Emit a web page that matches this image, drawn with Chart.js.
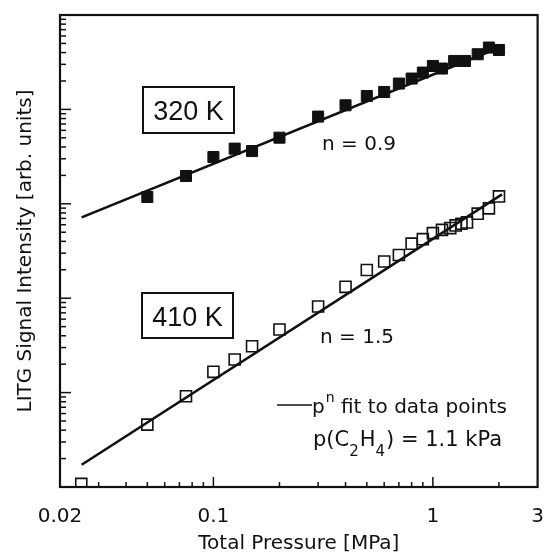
<!DOCTYPE html>
<html><head><meta charset="utf-8">
<script src="https://cdn.jsdelivr.net/npm/chart.js@4.4.0/dist/chart.umd.min.js"></script>
<style>html,body{margin:0;padding:0;background:#fff}#wrap{width:547px;height:557px}</style>
</head><body><div id="wrap"><canvas id="c" width="547" height="557"></canvas></div>
<script>
// ---- data ----
const pressure320 = [0.05,0.075,0.1,0.125,0.15,0.2,0.3,0.4,0.5,0.6,0.7,0.8,0.9,1.0,1.1,1.25,1.4,1.6,1.8,2.0];
const signal320   = [1180,1970,3130,3840,3620,5020,8390,11050,13870,15290,18780,21210,24550,28850,27080,32600,32600,38400,45200,42600];
const pressure410 = [0.025,0.05,0.075,0.1,0.125,0.15,0.2,0.3,0.4,0.5,0.6,0.7,0.8,0.9,1.0,1.1,1.2,1.27,1.35,1.43,1.6,1.8,2.0];
const signal410   = [1.08,4.58,9.14,16.6,22.4,31.0,46.6,81.6,132,199,245,287,378,422,489,529,553,590,615,635,786,894,1197];
const fit320P = [0.0251, 2.0];
const fit320S = [718, 45000];
const fit410P = [0.0251, 2.065];
const fit410S = [1.72, 1258];
const xTickLabels = [0.02, 0.1, 1, 3];
const xRange = [0.02, 3];
const yRange = [1, 1e5];
const labelTemp = ['320 K', '410 K'];
const labelN = ['n = 0.9', 'n = 1.5'];

const toXY = (xs, ys) => xs.map((x, i) => ({x: x, y: ys[i]}));
const FONT = '"DejaVu Sans", sans-serif';
const INK = '#111';

const decorPlugin = {
  id: 'decor',
  afterDraw(chart) {
    const ctx = chart.ctx;
    const xs = chart.scales.x, ys = chart.scales.y;
    const a = chart.chartArea;
    ctx.save();
    ctx.strokeStyle = INK; ctx.fillStyle = INK;
    // inward ticks on y
    ctx.lineWidth = 1.5;
    for (let e = 0; e < 5; e++) {
      for (let m = 1; m <= 9; m++) {
        const v = m * Math.pow(10, e);
        if (v <= yRange[0] || v >= yRange[1]) continue;
        const py = ys.getPixelForValue(v);
        const len = m === 1 ? 11 : 6;
        ctx.beginPath(); ctx.moveTo(a.left, py); ctx.lineTo(a.left + len, py); ctx.stroke();
      }
    }
    // inward ticks on x
    for (let e = -2; e <= 0; e++) {
      for (let m = 1; m <= 9; m++) {
        const v = m * Math.pow(10, e);
        if (v <= xRange[0] + 1e-9 || v >= xRange[1] - 1e-9) continue;
        const px = xs.getPixelForValue(v);
        const len = m === 1 ? 10 : 5;
        ctx.beginPath(); ctx.moveTo(px, a.bottom); ctx.lineTo(px, a.bottom - len); ctx.stroke();
      }
    }
    // frame
    ctx.lineWidth = 2.2;
    ctx.strokeRect(a.left, a.top, a.right - a.left, a.bottom - a.top);

    // temperature boxes
    ctx.lineWidth = 2;
    ctx.strokeRect(143, 87, 91, 46);
    ctx.strokeRect(142, 293, 91, 45);
    ctx.font = '27px "Liberation Sans", Arial, sans-serif';
    ctx.textAlign = 'center'; ctx.textBaseline = 'alphabetic';
    ctx.fillText(labelTemp[0], 188.5, 120);
    ctx.fillText(labelTemp[1], 187.5, 326);
    // exponents
    ctx.font = '20px ' + FONT;
    ctx.fillText(labelN[0], 359, 150);
    ctx.fillText(labelN[1], 357, 343);
    // legend line
    ctx.lineWidth = 1.6;
    ctx.beginPath(); ctx.moveTo(277, 405); ctx.lineTo(312, 405); ctx.stroke();
    ctx.textAlign = 'left';
    let x = 312;
    ctx.font = '20px ' + FONT;
    ctx.fillText('p', x, 413); x += ctx.measureText('p').width;
    ctx.font = '14px ' + FONT;
    ctx.fillText('n', x + 1, 402); x += ctx.measureText('n').width + 1;
    ctx.font = '20px ' + FONT;
    ctx.fillText(' fit to data points', x, 413);
    // partial pressure
    x = 313;
    const parts = [['p(C', 0], ['2', 1], ['H', 0], ['4', 1], [') = 1.1 kPa', 0]];
    for (const [s, sub] of parts) {
      ctx.font = (sub ? '15px ' : '21px ') + FONT;
      ctx.fillText(s, x, sub ? 456 : 446);
      x += ctx.measureText(s).width + (sub ? 1 : 0);
    }
    ctx.restore();
  }
};

new Chart(document.getElementById('c'), {
  type: 'scatter',
  data: {
    datasets: [
      { label: '320 K', data: toXY(pressure320, signal320), pointStyle: 'rect', pointRadius: 7.8,
        backgroundColor: INK, borderColor: INK, borderWidth: 1 },
      { label: '410 K', data: toXY(pressure410, signal410), pointStyle: 'rect', pointRadius: 7.8,
        backgroundColor: 'rgba(0,0,0,0)', borderColor: INK, borderWidth: 1.6 },
      { label: 'fit 320 K', data: toXY(fit320P, fit320S), showLine: true, pointRadius: 0,
        borderColor: INK, borderWidth: 2.6 },
      { label: 'fit 410 K', data: toXY(fit410P, fit410S), showLine: true, pointRadius: 0,
        borderColor: INK, borderWidth: 2.6 }
    ]
  },
  options: {
    responsive: false, animation: false, devicePixelRatio: 1,
    layout: { padding: { top: 15, right: 7, left: 0, bottom: 0 } },
    plugins: { legend: { display: false }, tooltip: { enabled: false } },
    scales: {
      x: {
        type: 'logarithmic', min: xRange[0], max: xRange[1],
        afterBuildTicks: s => { s.ticks = xTickLabels.map(v => ({ value: v })); },
        afterFit: s => { s.height = 70; s.paddingLeft = 0; s.paddingRight = 0; },
        ticks: { autoSkip: false, maxRotation: 0, padding: 18, color: INK,
                 font: { family: FONT, size: 20 }, callback: v => String(v) },
        grid: { display: false, drawTicks: false },
        border: { display: false },
        title: { display: true, text: 'Total Pressure [MPa]', color: INK,
                 font: { family: FONT, size: 20 }, padding: { top: 0, bottom: 1 } }
      },
      y: {
        type: 'logarithmic', min: yRange[0], max: yRange[1],
        afterFit: s => { s.width = 60; s.paddingTop = 0; s.paddingBottom = 0; },
        ticks: { display: false },
        grid: { display: false, drawTicks: false },
        border: { display: false },
        title: { display: true, text: 'LITG Signal Intensity [arb. units]', color: INK,
                 font: { family: FONT, size: 20 }, padding: { top: 14, bottom: 0 } }
      }
    }
  },
  plugins: [decorPlugin]
});
</script></body></html>
